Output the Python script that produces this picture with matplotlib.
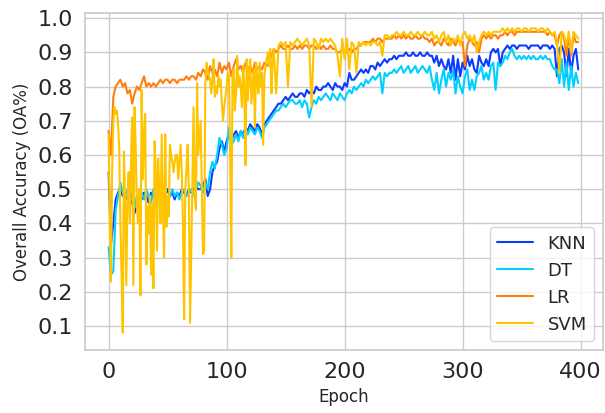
import matplotlib
matplotlib.use("Agg")
import matplotlib.pyplot as plt
import seaborn as sns
import numpy as np

epochs = list(range(0, 400, 2))
svm_epochs = list(range(0, 140)) + list(range(140, 400, 2))

knn = [
    0.55, 0.34, 0.40, 0.47, 0.49, 0.50, 0.48, 0.49, 0.47, 0.50,
    0.46, 0.43, 0.45, 0.48, 0.47, 0.49, 0.48, 0.46, 0.49, 0.48,
    0.49, 0.48, 0.47, 0.49, 0.48, 0.50, 0.48, 0.49, 0.47, 0.49,
    0.48, 0.50, 0.49, 0.48, 0.50, 0.49, 0.50, 0.51, 0.50, 0.50,
    0.51, 0.53, 0.48, 0.50, 0.55, 0.57, 0.58, 0.62, 0.64, 0.61,
    0.64, 0.66, 0.64, 0.66, 0.67, 0.65, 0.67, 0.66, 0.68, 0.67,
    0.69, 0.68, 0.67, 0.69, 0.68, 0.66, 0.69, 0.70, 0.71, 0.72,
    0.73, 0.74, 0.75, 0.75, 0.76, 0.77, 0.76, 0.77, 0.78, 0.77,
    0.77, 0.78, 0.78, 0.77, 0.79, 0.78, 0.79, 0.78, 0.80, 0.79,
    0.79, 0.80, 0.80, 0.81, 0.80, 0.79, 0.81, 0.80, 0.80, 0.79,
    0.81, 0.80, 0.84, 0.82, 0.82, 0.83, 0.84, 0.85, 0.84, 0.85,
    0.84, 0.86, 0.86, 0.85, 0.87, 0.86, 0.87, 0.88, 0.87, 0.88,
    0.88, 0.89, 0.88, 0.89, 0.89, 0.89, 0.90, 0.89, 0.89, 0.90,
    0.89, 0.89, 0.90, 0.89, 0.89, 0.90, 0.89, 0.89, 0.87, 0.89,
    0.86, 0.88, 0.86, 0.85, 0.88, 0.84, 0.89, 0.82, 0.88, 0.83,
    0.87, 0.85, 0.89, 0.86, 0.88, 0.85, 0.84, 0.89, 0.87, 0.86,
    0.88, 0.86, 0.90, 0.91, 0.90, 0.91, 0.86, 0.90, 0.91, 0.92,
    0.91, 0.92, 0.92, 0.91, 0.92, 0.92, 0.92, 0.92, 0.91, 0.92,
    0.92, 0.92, 0.92, 0.91, 0.92, 0.92, 0.92, 0.91, 0.92, 0.91,
    0.83, 0.91, 0.92, 0.90, 0.83, 0.91, 0.84, 0.89, 0.91, 0.85,
]

dt = [
    0.33, 0.25, 0.26, 0.44, 0.48, 0.52, 0.49, 0.47, 0.50, 0.48,
    0.47, 0.45, 0.48, 0.47, 0.49, 0.47, 0.50, 0.48, 0.46, 0.50,
    0.47, 0.49, 0.48, 0.46, 0.49, 0.47, 0.48, 0.50, 0.48, 0.49,
    0.47, 0.49, 0.50, 0.48, 0.49, 0.50, 0.48, 0.50, 0.52, 0.51,
    0.49, 0.52, 0.50, 0.55, 0.58, 0.56, 0.60, 0.65, 0.63, 0.60,
    0.62, 0.68, 0.63, 0.64, 0.66, 0.64, 0.67, 0.65, 0.68, 0.66,
    0.68, 0.67, 0.66, 0.68, 0.67, 0.65, 0.68, 0.69, 0.70, 0.71,
    0.72, 0.73, 0.73, 0.74, 0.75, 0.74, 0.75, 0.76, 0.76, 0.75,
    0.75, 0.76, 0.74, 0.76, 0.75, 0.71, 0.74, 0.76, 0.75, 0.77,
    0.76, 0.77, 0.78, 0.77, 0.76, 0.78, 0.77, 0.76, 0.78, 0.77,
    0.76, 0.78, 0.79, 0.78, 0.80, 0.79, 0.80, 0.81, 0.80, 0.82,
    0.81, 0.82, 0.83, 0.82, 0.83, 0.84, 0.78, 0.84, 0.83, 0.84,
    0.84, 0.85, 0.84, 0.85, 0.86, 0.84, 0.85, 0.86, 0.84, 0.85,
    0.86, 0.84, 0.85, 0.86, 0.85, 0.84, 0.86, 0.82, 0.79, 0.84,
    0.78, 0.82, 0.85, 0.80, 0.84, 0.82, 0.85, 0.78, 0.83, 0.80,
    0.78, 0.83, 0.85, 0.79, 0.82, 0.79, 0.83, 0.84, 0.86, 0.82,
    0.84, 0.82, 0.86, 0.87, 0.79, 0.87, 0.86, 0.87, 0.89, 0.88,
    0.90, 0.91, 0.89, 0.88, 0.89, 0.88, 0.89, 0.88, 0.89, 0.88,
    0.89, 0.88, 0.88, 0.89, 0.88, 0.89, 0.88, 0.88, 0.86, 0.85,
    0.85, 0.81, 0.88, 0.80, 0.87, 0.79, 0.86, 0.80, 0.84, 0.81,
]

lr = [
    0.67, 0.60, 0.77, 0.80, 0.81, 0.82, 0.80, 0.81, 0.78, 0.79,
    0.75, 0.78, 0.80, 0.79, 0.81, 0.83, 0.80, 0.81, 0.80, 0.81,
    0.80, 0.81, 0.82, 0.81, 0.82, 0.82, 0.81, 0.82, 0.82, 0.81,
    0.82, 0.82, 0.82, 0.83, 0.82, 0.83, 0.83, 0.82, 0.84, 0.83,
    0.85, 0.84, 0.82, 0.86, 0.84, 0.85, 0.83, 0.87, 0.84, 0.86,
    0.85, 0.87, 0.83, 0.86, 0.88, 0.85, 0.86, 0.84, 0.87, 0.85,
    0.86, 0.84, 0.87, 0.85, 0.86, 0.85, 0.87, 0.86, 0.87, 0.89,
    0.91, 0.90, 0.91, 0.92, 0.91, 0.91, 0.92, 0.91, 0.91, 0.92,
    0.91, 0.92, 0.91, 0.92, 0.92, 0.91, 0.92, 0.92, 0.91, 0.92,
    0.91, 0.92, 0.91, 0.91, 0.92, 0.91, 0.91, 0.90, 0.90, 0.91,
    0.90, 0.90, 0.91, 0.90, 0.91, 0.91, 0.92, 0.92, 0.93, 0.93,
    0.93, 0.93, 0.94, 0.93, 0.94, 0.94, 0.93, 0.94, 0.94, 0.94,
    0.94, 0.95, 0.94, 0.95, 0.94, 0.95, 0.94, 0.95, 0.94, 0.94,
    0.95, 0.94, 0.94, 0.95, 0.94, 0.94, 0.93, 0.94, 0.92, 0.93,
    0.93, 0.92, 0.94, 0.93, 0.92, 0.94, 0.93, 0.92, 0.94, 0.93,
    0.93, 0.86, 0.92, 0.94, 0.93, 0.92, 0.93, 0.90, 0.94, 0.95,
    0.94, 0.95, 0.94, 0.95, 0.95, 0.94, 0.95, 0.95, 0.96, 0.95,
    0.96, 0.96, 0.95, 0.96, 0.96, 0.96, 0.96, 0.96, 0.96, 0.96,
    0.96, 0.96, 0.96, 0.96, 0.96, 0.96, 0.95, 0.96, 0.95, 0.95,
    0.92, 0.95, 0.96, 0.94, 0.89, 0.95, 0.89, 0.95, 0.93, 0.93,
]

svm = [
    # epochs 0-139, one per epoch
    0.66, 0.40, 0.23, 0.55, 0.70, 0.74, 0.72, 0.73, 0.69, 0.62,
    0.40, 0.25, 0.08, 0.61, 0.45, 0.22, 0.48, 0.55, 0.40, 0.58,
    0.71, 0.22, 0.74, 0.62, 0.45, 0.40, 0.50, 0.19, 0.79, 0.53,
    0.66, 0.72, 0.28, 0.45, 0.37, 0.48, 0.25, 0.46, 0.21, 0.64,
    0.55, 0.32, 0.59, 0.50, 0.40, 0.66, 0.45, 0.30, 0.66, 0.39,
    0.48, 0.42, 0.63, 0.60, 0.58, 0.55, 0.58, 0.60, 0.60, 0.53,
    0.58, 0.63, 0.55, 0.40, 0.12, 0.50, 0.56, 0.63, 0.50, 0.11,
    0.30, 0.52, 0.74, 0.48, 0.44, 0.81, 0.60, 0.65, 0.70, 0.51,
    0.31, 0.32, 0.81, 0.87, 0.85, 0.83, 0.82, 0.78, 0.82, 0.88,
    0.77, 0.80, 0.78, 0.83, 0.80, 0.82, 0.75, 0.70, 0.74, 0.77,
    0.80, 0.84, 0.83, 0.60, 0.30, 0.83, 0.85, 0.73, 0.78, 0.89,
    0.80, 0.83, 0.80, 0.74, 0.86, 0.80, 0.57, 0.88, 0.76, 0.84,
    0.88, 0.75, 0.80, 0.85, 0.68, 0.87, 0.82, 0.78, 0.87, 0.80,
    0.84, 0.63, 0.83, 0.86, 0.88, 0.90, 0.86, 0.91, 0.78, 0.87,
    # epochs 140-398, every second epoch
    0.91, 0.78, 0.92, 0.93, 0.92, 0.93, 0.80, 0.93, 0.92, 0.93,
    0.94, 0.93, 0.92, 0.93, 0.94, 0.92, 0.74, 0.94, 0.93, 0.91,
    0.94, 0.93, 0.94, 0.93, 0.94, 0.93, 0.92, 0.89, 0.83, 0.94,
    0.88, 0.94, 0.85, 0.93, 0.92, 0.84, 0.93, 0.92, 0.93, 0.92,
    0.93, 0.92, 0.93, 0.93, 0.92, 0.93, 0.89, 0.95, 0.95, 0.94,
    0.95, 0.95, 0.96, 0.95, 0.95, 0.96, 0.95, 0.95, 0.96, 0.95,
    0.95, 0.96, 0.95, 0.95, 0.96, 0.95, 0.95, 0.96, 0.94, 0.95,
    0.93, 0.95, 0.96, 0.93, 0.95, 0.92, 0.94, 0.93, 0.95, 0.92,
    0.95, 0.96, 0.94, 0.95, 0.93, 0.95, 0.90, 0.93, 0.95, 0.96,
    0.95, 0.96, 0.95, 0.96, 0.96, 0.96, 0.96, 0.97, 0.96, 0.97,
    0.96, 0.97, 0.96, 0.97, 0.97, 0.96, 0.97, 0.97, 0.96, 0.97,
    0.97, 0.97, 0.96, 0.97, 0.97, 0.96, 0.97, 0.96, 0.95, 0.96,
    0.93, 0.84, 0.96, 0.95, 0.92, 0.96, 0.90, 0.96, 0.95, 0.94,
]

series_names = ["KNN", "DT", "LR", "SVM"]
series_x = [epochs, epochs, epochs, svm_epochs]
series_values = [knn, dt, lr, svm]
colors = ["#0a3cff", "#00d0ff", "#ff7f0e", "#ffc400"]

sns.set_theme(style="whitegrid")
plt.rcParams['font.family'] = ['DejaVu Sans']

fig = plt.figure(figsize=(6.05, 4.13), dpi=100)
ax = fig.add_axes([85/605, 1 - 350/413, (603 - 85)/605, (350 - 13)/413])

for name, xs, vals, c in zip(series_names, series_x, series_values, colors):
    ax.plot(xs, vals, color=c, lw=1.5, label=name)

ax.set_xlim(-20, 419)
ax.set_ylim(0.03, 1.015)
yt = np.arange(0.1, 1.01, 0.1)
ax.set_yticks(yt)
ax.set_yticklabels([f"{v:.1f}" for v in yt])
ax.set_xticks([0, 100, 200, 300, 400])
ax.tick_params(axis='both', labelsize=16, colors='0.15', pad=3)
ax.set_xlabel("Epoch", fontsize=12, color='0.15')
ax.set_ylabel("Overall Accuracy (OA%)", fontsize=12, color='0.15')
ax.legend(loc='lower right', fontsize=13, frameon=True)
fig.savefig("out.png", dpi=100)
